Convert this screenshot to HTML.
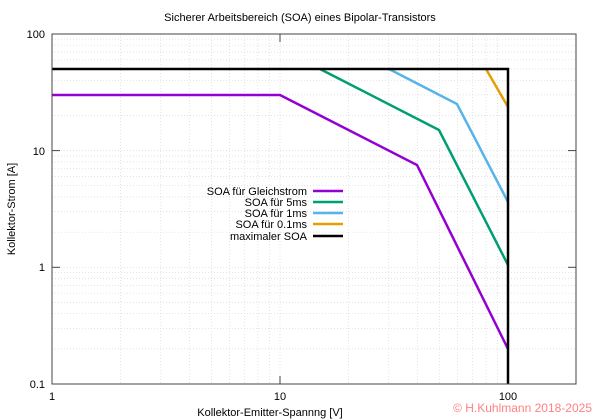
<!DOCTYPE html>
<html><head><meta charset="utf-8"><style>
body{margin:0;background:#fff}
svg{display:block;font-family:"Liberation Sans","DejaVu Sans",sans-serif}
</style></head><body>
<svg width="600" height="420" viewBox="0 0 600 420">
<rect width="600" height="420" fill="#fff"/>
<g stroke="#d8d8d8" stroke-width="0.7" stroke-dasharray="1,2">
<line x1="120.6" y1="34" x2="120.6" y2="384"/><line x1="160.8" y1="34" x2="160.8" y2="384"/><line x1="189.3" y1="34" x2="189.3" y2="384"/><line x1="211.4" y1="34" x2="211.4" y2="384"/><line x1="229.4" y1="34" x2="229.4" y2="384"/><line x1="244.7" y1="34" x2="244.7" y2="384"/><line x1="257.9" y1="34" x2="257.9" y2="384"/><line x1="269.6" y1="34" x2="269.6" y2="384"/><line x1="280" y1="34" x2="280" y2="384"/>
<line x1="348.6" y1="34" x2="348.6" y2="384"/><line x1="388.8" y1="34" x2="388.8" y2="384"/><line x1="417.3" y1="34" x2="417.3" y2="384"/><line x1="439.4" y1="34" x2="439.4" y2="384"/><line x1="457.4" y1="34" x2="457.4" y2="384"/><line x1="472.7" y1="34" x2="472.7" y2="384"/><line x1="485.9" y1="34" x2="485.9" y2="384"/><line x1="497.6" y1="34" x2="497.6" y2="384"/>
<line x1="52" y1="348.9" x2="576" y2="348.9"/><line x1="52" y1="328.3" x2="576" y2="328.3"/><line x1="52" y1="313.7" x2="576" y2="313.7"/><line x1="52" y1="302.4" x2="576" y2="302.4"/><line x1="52" y1="293.2" x2="576" y2="293.2"/><line x1="52" y1="285.4" x2="576" y2="285.4"/><line x1="52" y1="278.6" x2="576" y2="278.6"/><line x1="52" y1="272.6" x2="576" y2="272.6"/><line x1="52" y1="267.3" x2="576" y2="267.3"/>
<line x1="52" y1="232.2" x2="576" y2="232.2"/><line x1="52" y1="211.6" x2="576" y2="211.6"/><line x1="52" y1="197" x2="576" y2="197"/><line x1="52" y1="185.7" x2="576" y2="185.7"/><line x1="52" y1="176.5" x2="576" y2="176.5"/><line x1="52" y1="168.7" x2="576" y2="168.7"/><line x1="52" y1="161.9" x2="576" y2="161.9"/><line x1="52" y1="155.9" x2="576" y2="155.9"/><line x1="52" y1="150.6" x2="576" y2="150.6"/>
<line x1="52" y1="115.5" x2="576" y2="115.5"/><line x1="52" y1="94.9" x2="576" y2="94.9"/><line x1="52" y1="80.3" x2="576" y2="80.3"/><line x1="52" y1="69" x2="576" y2="69"/><line x1="52" y1="59.8" x2="576" y2="59.8"/><line x1="52" y1="52" x2="576" y2="52"/><line x1="52" y1="45.2" x2="576" y2="45.2"/><line x1="52" y1="39.2" x2="576" y2="39.2"/>
</g>
<g stroke="#444" stroke-width="1">
<line x1="280" y1="384" x2="280" y2="376"/><line x1="280" y1="34" x2="280" y2="42"/>
<line x1="52" y1="267.3" x2="60" y2="267.3"/><line x1="576" y1="267.3" x2="568" y2="267.3"/>
<line x1="52" y1="150.6" x2="60" y2="150.6"/><line x1="576" y1="150.6" x2="568" y2="150.6"/>
</g>
<polyline fill="none" stroke="#9400d3" stroke-width="2.5" points="52,95 280,95 417,165 508,349"/>
<polyline fill="none" stroke="#009e73" stroke-width="2.5" points="320,69 439,130 508,265"/>
<polyline fill="none" stroke="#56b4e9" stroke-width="2.5" points="389,69 457,104 508,202"/>
<polyline fill="none" stroke="#e69f00" stroke-width="2.5" points="486,69 508,107"/>
<polyline fill="none" stroke="#000" stroke-width="2.5" points="52,69 508,69 508,384"/>
<rect x="52" y="34" width="524" height="350" fill="none" stroke="#444" stroke-width="1"/>
<g font-size="11" fill="#000">
<text x="300" y="21" text-anchor="middle">Sicherer Arbeitsbereich (SOA) eines Bipolar-Transistors</text>
<text x="45" y="38" text-anchor="end">100</text>
<text x="45" y="155" text-anchor="end">10</text>
<text x="45" y="271" text-anchor="end">1</text>
<text x="45" y="388" text-anchor="end">0.1</text>
<text x="52" y="400" text-anchor="middle">1</text>
<text x="280" y="400" text-anchor="middle">10</text>
<text x="508" y="400" text-anchor="middle">100</text>
<text x="270" y="416" text-anchor="middle">Kollektor-Emitter-Spannng [V]</text>
<text transform="translate(15,209) rotate(-90)" text-anchor="middle">Kollektor-Strom [A]</text>
<text x="307" y="195" text-anchor="end">SOA für Gleichstrom</text>
<text x="307" y="206" text-anchor="end">SOA für 5ms</text>
<text x="307" y="217" text-anchor="end">SOA für 1ms</text>
<text x="307" y="228" text-anchor="end">SOA für 0.1ms</text>
<text x="307" y="240" text-anchor="end">maximaler SOA</text>
</g>
<g stroke-width="2.5">
<line x1="313" y1="191" x2="343" y2="191" stroke="#9400d3"/>
<line x1="313" y1="202" x2="343" y2="202" stroke="#009e73"/>
<line x1="313" y1="213" x2="343" y2="213" stroke="#56b4e9"/>
<line x1="313" y1="224" x2="343" y2="224" stroke="#e69f00"/>
<line x1="313" y1="236" x2="343" y2="236" stroke="#000"/>
</g>
<text x="592" y="412" text-anchor="end" font-size="12" fill="#ff8080">© H.Kuhlmann 2018-2025</text>
</svg>
</body></html>
